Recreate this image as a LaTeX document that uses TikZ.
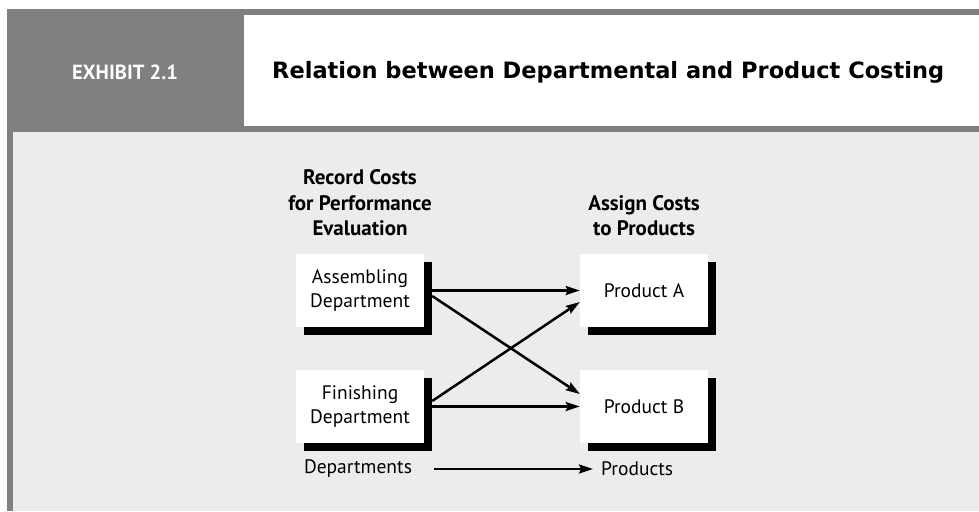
\documentclass[tikz,border=0pt]{standalone}
\usepackage{fontspec}
\setmainfont{PT Sans}
\newfontfamily\titlefont{DejaVu Sans}
\usetikzlibrary{arrows.meta,shadows}
\definecolor{dgray}{HTML}{808080}
\definecolor{lgray}{HTML}{ECECEC}
\begin{document}
\begin{tikzpicture}[x=1pt,y=-1pt,
  bodyfont/.style={font=\fontsize{19.5}{24}\selectfont},
  headfont/.style={font=\fontsize{21}{25.5}\selectfont\bfseries},
  box/.style={fill=white, minimum width=128pt, minimum height=73pt, inner sep=0pt,
    align=center, bodyfont,
    drop shadow={shadow xshift=8pt, shadow yshift=-8pt, fill=black, opacity=1}},
  arr/.style={line width=2.5pt, -{Stealth[length=14pt,width=9pt,inset=2pt]}},
  lbl/.style={inner sep=0pt, align=center}]
\useasboundingbox (0,0) rectangle (979,511);
\fill[white] (0,0) rectangle (979,511);
\fill[dgray] (7,9) rectangle (979,132);
\fill[dgray] (7,132) rectangle (13,511);
\fill[lgray] (13,132) rectangle (979,511);
\fill[white] (244,15) rectangle (979,126);
\node[lbl, text=white, font=\fontsize{20.5}{24}\selectfont\bfseries] (exh) at (125,72) {EXHIBIT 2.1};
\node[lbl, anchor=west, font=\titlefont\fontsize{22.5}{26}\selectfont\bfseries] (title) at (272,72) {Relation between Departmental and Product Costing};

\node[lbl, headfont] (hleft) at (360,203) {Record Costs\\for Performance\\Evaluation};
\node[lbl, headfont] (hright) at (644,215.5) {Assign Costs\\to Products};

\node[box] (asm) at (360,290.5) {Assembling\\Department};
\node[box] (fin) at (360,406.5) {Finishing\\Department};
\node[box] (pa) at (644,290.5) {Product A};
\node[box] (pb) at (644,406.5) {Product B};

\draw[arr] ([xshift=8pt]asm.east) -- (pa.west);
\draw[arr] ([xshift=8pt,yshift=-5.5pt]asm.east) -- ([yshift=12.5pt]pb.west);
\draw[arr] ([xshift=8pt,yshift=5.5pt]fin.east) -- ([yshift=-11.5pt]pa.west);
\draw[arr] ([xshift=8pt]fin.east) -- (pb.west);

\node[lbl, bodyfont] (dep) at (358,469) {Departments};
\node[lbl, bodyfont, anchor=west] (prod) at (601,469) {Products};
\draw[arr] ([xshift=22pt]dep.east) -- ([xshift=-8pt]prod.west);
\end{tikzpicture}
\end{document}
